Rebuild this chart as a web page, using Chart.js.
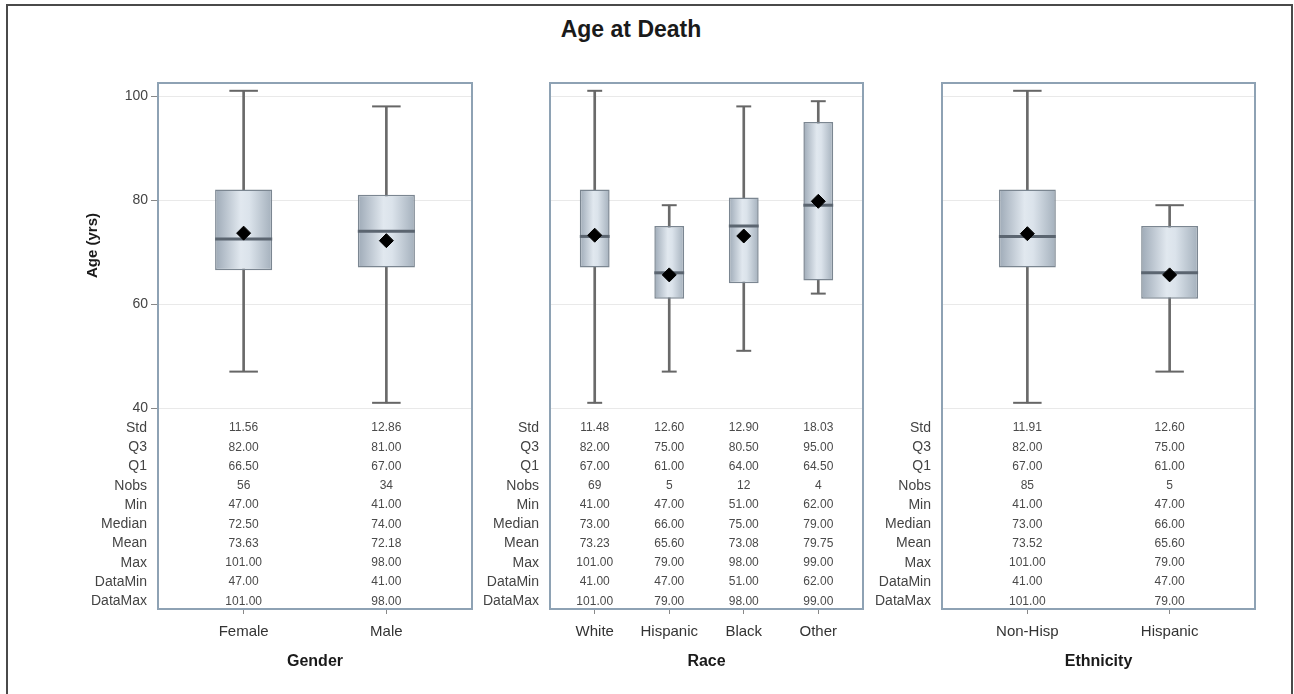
<!DOCTYPE html>
<html><head><meta charset="utf-8">
<script src="https://cdn.jsdelivr.net/npm/chart.js@4.4.0/dist/chart.umd.min.js"></script>
<style>
html,body{margin:0;padding:0;background:#fff;}
#wrap{position:relative;width:1294px;height:694px;overflow:hidden;background:#fff;}
canvas{position:absolute;left:0;top:0;}
#frame{position:absolute;left:6px;top:4px;width:1287px;height:710px;border:2px solid #4a4a4a;box-sizing:border-box;}
#title{position:absolute;left:431px;width:400px;top:16px;text-align:center;font:bold 23px "Liberation Sans",Arial,sans-serif;color:#1a1a1a;}
</style></head><body>
<div id="wrap">
<div id="frame"></div>
<div id="title">Age at Death</div>
<canvas id="c1" width="1294" height="694"></canvas>
<canvas id="c2" width="1294" height="694"></canvas>
<canvas id="c3" width="1294" height="694"></canvas>
</div>
<script>
// ---------- data ----------
const statRows = ['Std','Q3','Q1','Nobs','Min','Median','Mean','Max','DataMin','DataMax'];
const yTicks = [40, 60, 80, 100];
const yTitle = 'Age (yrs)';

const genderCats = ['Female', 'Male'];
const genderStd = [11.56, 12.86];
const genderQ3 = [82.00, 81.00];
const genderQ1 = [66.50, 67.00];
const genderNobs = [56, 34];
const genderMin = [47.00, 41.00];
const genderMedian = [72.50, 74.00];
const genderMean = [73.63, 72.18];
const genderMax = [101.00, 98.00];
const genderDataMin = [47.00, 41.00];
const genderDataMax = [101.00, 98.00];

const raceCats = ['White', 'Hispanic', 'Black', 'Other'];
const raceStd = [11.48, 12.60, 12.90, 18.03];
const raceQ3 = [82.00, 75.00, 80.50, 95.00];
const raceQ1 = [67.00, 61.00, 64.00, 64.50];
const raceNobs = [69, 5, 12, 4];
const raceMin = [41.00, 47.00, 51.00, 62.00];
const raceMedian = [73.00, 66.00, 75.00, 79.00];
const raceMean = [73.23, 65.60, 73.08, 79.75];
const raceMax = [101.00, 79.00, 98.00, 99.00];
const raceDataMin = [41.00, 47.00, 51.00, 62.00];
const raceDataMax = [101.00, 79.00, 98.00, 99.00];

const ethCats = ['Non-Hisp', 'Hispanic'];
const ethStd = [11.91, 12.60];
const ethQ3 = [82.00, 75.00];
const ethQ1 = [67.00, 61.00];
const ethNobs = [85, 5];
const ethMin = [41.00, 47.00];
const ethMedian = [73.00, 66.00];
const ethMean = [73.52, 65.60];
const ethMax = [101.00, 79.00];
const ethDataMin = [41.00, 47.00];
const ethDataMax = [101.00, 79.00];

// ---------- drawing ----------
const FONT = '"Liberation Sans", Arial, sans-serif';
Chart.defaults.font.family = FONT;
Chart.defaults.color = '#333';

function unitPx(chart) {
  const s = chart.scales.x;
  if (!s) return 0;
  const u = Math.abs(s.getPixelForValue(1) - s.getPixelForValue(0));
  return isFinite(u) ? u : 0;
}

function makePanel(id, cats, st, xTitle, cfg) {
  const pts = (arr) => cats.map((c, i) => ({x: i, y: arr[i]}));
  const caps = cats.map((c, i) => ({x: i, y: st.Min[i]})).concat(cats.map((c, i) => ({x: i, y: st.Max[i]})));
  const decor = {
    id: 'decor',
    afterDraw(chart) {
      const {ctx, chartArea: a, scales: {x, y}} = chart;
      ctx.save();
      ctx.strokeStyle = '#8ea2b4';
      ctx.lineWidth = 2;
      ctx.strokeRect(a.left, a.top, a.right - a.left, a.bottom - a.top);
      const y0 = y.getPixelForValue(yTicks[0]);
      ctx.textBaseline = 'middle';
      statRows.forEach((r, ri) => {
        const py = y0 + 20 + ri * 19.25;
        ctx.font = '14px ' + FONT;
        ctx.fillStyle = '#444';
        ctx.textAlign = 'right';
        ctx.fillText(r, a.left - 11, py);
        ctx.font = '12px ' + FONT;
        ctx.fillStyle = '#4a4a4a';
        ctx.textAlign = 'center';
        st[r].forEach((v, i) => {
          const t = r === 'Nobs' ? String(v) : v.toFixed(2);
          ctx.fillText(t, x.getPixelForValue(i), py);
        });
      });
      if (cfg.showY) {
        const ym = (y.getPixelForValue(y.max) + y0) / 2;
        ctx.translate(93, ym);
        ctx.rotate(-Math.PI / 2);
        ctx.font = 'bold 15px ' + FONT;
        ctx.fillStyle = '#1a1a1a';
        ctx.textAlign = 'center';
        ctx.fillText(yTitle, 0, 0);
      }
      ctx.restore();
    }
  };
  return new Chart(document.getElementById(id), {
    type: 'bar',
    data: {
      datasets: [
        {
          type: 'scatter', label: 'Mean', data: pts(st.Mean), order: 0,
          pointStyle: 'rectRot', pointRadius: 7, pointHoverRadius: 7,
          pointBackgroundColor: '#000', pointBorderColor: '#000', pointBorderWidth: 1
        },
        {
          type: 'scatter', label: 'Median', data: pts(st.Median), order: 1,
          pointStyle: 'line', pointRadius: (c) => 0.2 * unitPx(c.chart), pointHoverRadius: (c) => 0.2 * unitPx(c.chart),
          pointBorderColor: '#5b6570', pointBorderWidth: 3
        },
        {
          type: 'scatter', label: 'Caps', data: caps, order: 2,
          pointStyle: 'line', pointRadius: (c) => 0.1 * unitPx(c.chart), pointHoverRadius: (c) => 0.1 * unitPx(c.chart),
          pointBorderColor: '#666', pointBorderWidth: 2
        },
        {
          label: 'Box', data: cats.map((c, i) => ({x: i, y: [st.Q1[i], st.Q3[i]]})), order: 3,
          grouped: false, barPercentage: 0.4, categoryPercentage: 1,
          backgroundColor: (c) => {
            const s = c.chart.scales.x;
            if (!c.raw || !s) return '#cfd8e1';
            const cx = s.getPixelForValue(c.raw.x);
            const hw = 0.2 * unitPx(c.chart);
            if (!isFinite(cx) || !(hw > 0)) return '#cfd8e1';
            const g = c.chart.ctx.createLinearGradient(cx - hw, 0, cx + hw, 0);
            g.addColorStop(0, '#9eaab7');
            g.addColorStop(0.45, '#e1e8ef');
            g.addColorStop(0.6, '#dbe3eb');
            g.addColorStop(1, '#a4b0bc');
            return g;
          },
          borderColor: '#7b8691', borderWidth: 1.5, borderSkipped: false
        },
        {
          label: 'Whisker', data: cats.map((c, i) => ({x: i, y: [st.Min[i], st.Max[i]]})), order: 4,
          grouped: false, barThickness: 2, backgroundColor: '#6a6a6a', borderWidth: 0
        }
      ]
    },
    options: {
      responsive: false,
      animation: false,
      events: [],
      layout: {padding: cfg.padding},
      plugins: {legend: {display: false}, tooltip: {enabled: false}, title: {display: false}},
      scales: {
        x: {
          type: 'linear', min: -0.6, max: cats.length - 0.4, offset: false,
          afterBuildTicks: (s) => { s.ticks = cats.map((c, i) => ({value: i})); },
          afterFit: (s) => { s.height = 70; },
          ticks: {callback: (v) => cats[Math.round(v)], color: '#333', font: {size: 15}, padding: 9, maxRotation: 0, autoSkip: false},
          grid: {display: true, offset: false, drawOnChartArea: false, drawTicks: true, tickLength: 5, tickColor: '#888'},
          border: {display: false},
          title: {display: true, text: xTitle, color: '#1a1a1a', font: {size: 16, weight: 'bold'}, padding: {top: 0, bottom: 8}}
        },
        y: {
          type: 'linear', min: 1.35, max: 102.5,
          afterBuildTicks: (s) => { s.ticks = yTicks.map((v) => ({value: v})); },
          afterFit: (s) => { s.width = cfg.yWidth; },
          ticks: {display: cfg.showY, color: '#444', font: {size: 14}, padding: 3},
          grid: {color: '#e9e9e9', lineWidth: 1, drawTicks: cfg.showY, tickLength: 7, tickColor: '#888'},
          border: {display: false}
        }
      }
    },
    plugins: [decor]
  });
}

const genderStats = {Std: genderStd, Q3: genderQ3, Q1: genderQ1, Nobs: genderNobs, Min: genderMin, Median: genderMedian, Mean: genderMean, Max: genderMax, DataMin: genderDataMin, DataMax: genderDataMax};
const raceStats = {Std: raceStd, Q3: raceQ3, Q1: raceQ1, Nobs: raceNobs, Min: raceMin, Median: raceMedian, Mean: raceMean, Max: raceMax, DataMin: raceDataMin, DataMax: raceDataMax};
const ethStats = {Std: ethStd, Q3: ethQ3, Q1: ethQ1, Nobs: ethNobs, Min: ethMin, Median: ethMedian, Mean: ethMean, Max: ethMax, DataMin: ethDataMin, DataMax: ethDataMax};

makePanel('c1', genderCats, genderStats, 'Gender', {showY: true, yWidth: 158, padding: {left: 0, top: 83, right: 822, bottom: 15}});
makePanel('c2', raceCats, raceStats, 'Race', {showY: false, yWidth: 0, padding: {left: 550, top: 83, right: 431, bottom: 15}});
makePanel('c3', ethCats, ethStats, 'Ethnicity', {showY: false, yWidth: 0, padding: {left: 942, top: 83, right: 39, bottom: 15}});
</script>
</body></html>
